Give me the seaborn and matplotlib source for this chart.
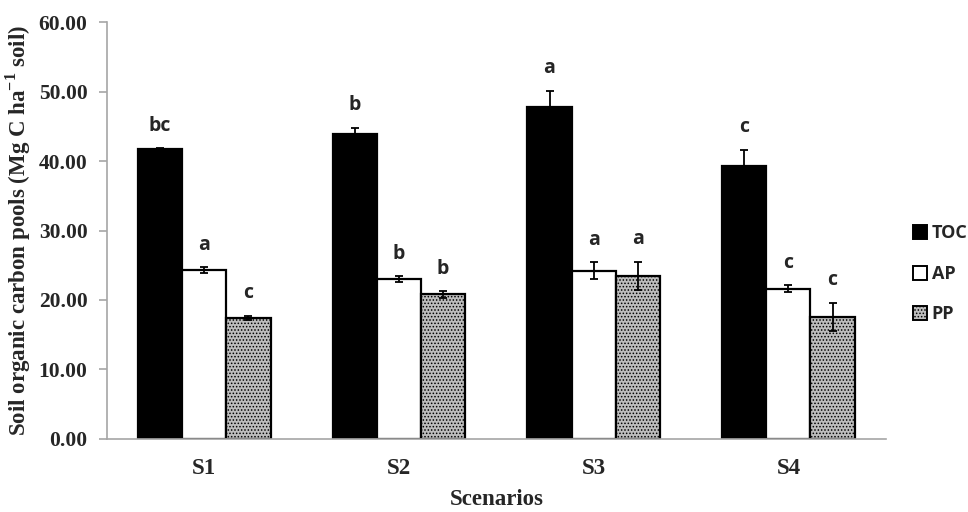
import numpy as np
import pandas as pd
import seaborn as sns
import matplotlib
matplotlib.use("Agg")
from matplotlib import pyplot as plt
from matplotlib.patches import Patch

# values
scenarios = ['S1', 'S2', 'S3', 'S4']
pools = ['TOC', 'AP', 'PP']
toc_mean = [41.7, 43.9, 47.8, 39.3]
toc_err = [0.1, 0.9, 2.3, 2.35]
ap_mean = [24.3, 23.0, 24.2, 21.6]
ap_err = [0.4, 0.45, 1.2, 0.5]
pp_mean = [17.4, 20.8, 23.5, 17.55]
pp_err = [0.3, 0.45, 2.0, 2.05]
toc_letters = ['bc', 'b', 'a', 'c']
ap_letters = ['a', 'b', 'a', 'c']
pp_letters = ['c', 'b', 'a', 'c']

df = pd.DataFrame({
    'scenario': scenarios * 3,
    'pool': [p for p in pools for _ in scenarios],
    'value': toc_mean + ap_mean + pp_mean,
    'err': toc_err + ap_err + pp_err,
    'letter': toc_letters + ap_letters + pp_letters,
})

sns.set_style('white')
plt.rcParams['hatch.linewidth'] = 0.7
plt.rcParams['mathtext.fontset'] = 'custom'
plt.rcParams['mathtext.rm'] = 'Liberation Serif:bold'
plt.rcParams['mathtext.bf'] = 'Liberation Serif:bold'
serif = ['Liberation Serif', 'DejaVu Serif']
sans = ['Open Sans', 'DejaVu Sans']

fig = plt.figure(figsize=(9.68, 5.12), dpi=100)
ax = fig.add_axes([0.1105, 0.1426, 0.8045, 0.8144])

palette = {'TOC': 'black', 'AP': 'white', 'PP': '#bdbdbd'}
sns.barplot(data=df, x='scenario', y='value', hue='pool', order=scenarios, hue_order=pools,
            palette=palette, errorbar=None, width=0.68, edgecolor='black', linewidth=1.6,
            saturation=1, ax=ax, legend=False)

# seaborn adds patches hue by hue, in scenario order
for i, bar in enumerate(ax.patches[:len(df)]):
    row = df.iloc[i]
    if row['pool'] == 'PP':
        bar.set_hatch('.....')
    xc = bar.get_x() + bar.get_width() / 2
    top = bar.get_height()
    ax.errorbar(xc, top, yerr=row['err'], fmt='none', ecolor='black', elinewidth=1.3,
                capsize=3.2, capthick=1.3, zorder=5)
    ax.annotate(row['letter'], (xc, top + row['err']), xytext=(0, 9), textcoords='offset points',
                ha='center', va='bottom', fontsize=14, fontweight='bold', family=sans)

ax.set_ylim(0, 60)
ax.set_yticks(np.arange(0, 61, 10))
ax.set_yticklabels([f'{v:.2f}' for v in np.arange(0, 61, 10)], fontsize=15.5, fontweight='bold', family=serif)
ax.set_xlim(-0.5, 3.5)
ax.set_xticks(range(4))
ax.set_xticklabels(scenarios, fontsize=16.5, fontweight='bold', family=serif)
ax.set_xticks(np.arange(-0.5, 4, 1), minor=True)
ax.tick_params(axis='x', which='major', length=0, pad=14)
ax.tick_params(axis='x', which='minor', length=6, color='#a6a6a6', width=1.2)
ax.tick_params(axis='y', length=6, color='#a6a6a6', width=1.2, left=True, pad=8)

for s in ['top', 'right']:
    ax.spines[s].set_visible(False)
for s in ['left', 'bottom']:
    ax.spines[s].set_color('#a6a6a6')
    ax.spines[s].set_linewidth(1.2)

ax.set_xlabel('Scenarios', fontsize=16.5, fontweight='bold', family=serif, labelpad=7)
ax.set_ylabel('Soil organic carbon pools (Mg C ha$^{-1}$ soil)', fontsize=16.5, fontweight='bold',
              family=serif, labelpad=4)

handles = [Patch(facecolor=palette[p], edgecolor='black', linewidth=1.4,
                 hatch='.....' if p == 'PP' else None) for p in pools]
fig.legend(handles, pools, loc='center left', bbox_to_anchor=(0.926, 0.465), frameon=False,
           handlelength=0.8, handleheight=0.8, handletextpad=0.25, labelspacing=1.25,
           prop={'family': 'Open Sans', 'weight': 'bold', 'size': 13})

fig.savefig('out.png', dpi=100)
